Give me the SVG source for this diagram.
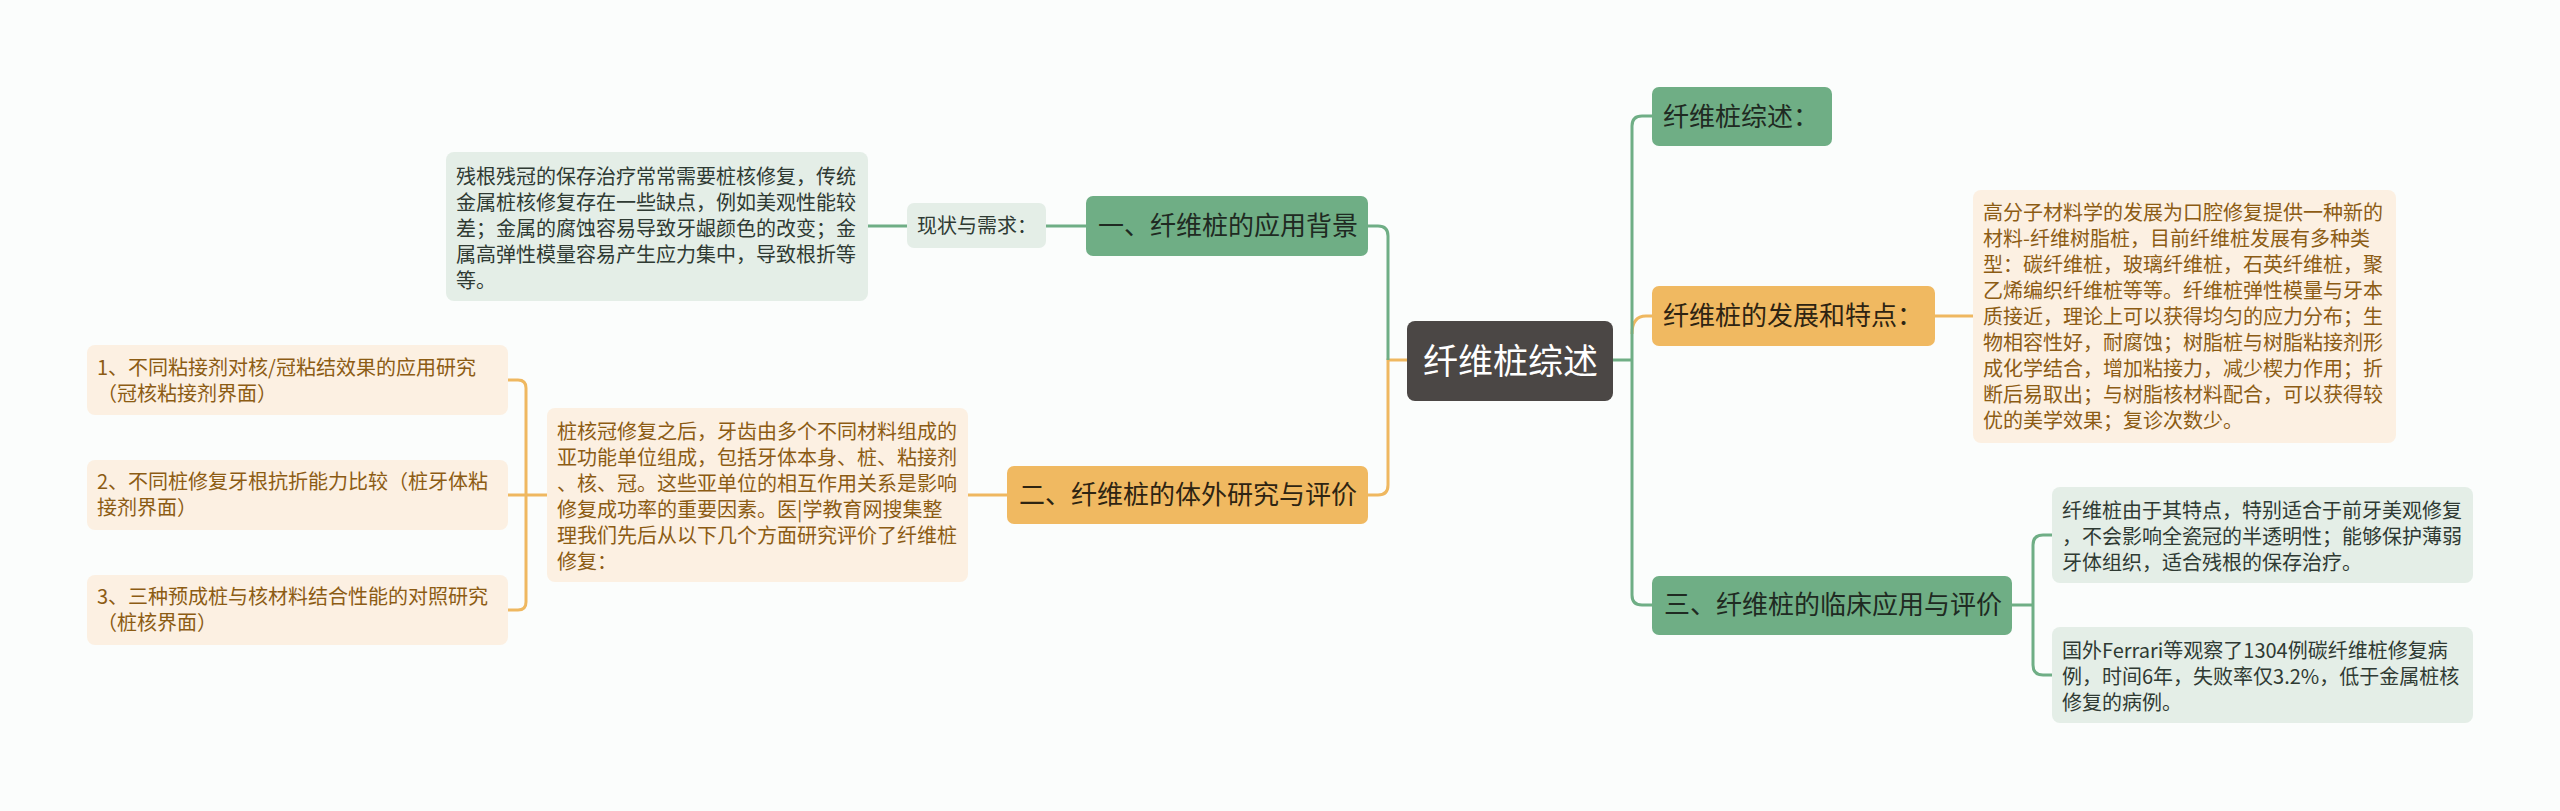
<svg xmlns="http://www.w3.org/2000/svg" width="2560" height="811" viewBox="0 0 2560 811">
<defs>
<style>
.bg{fill:#fbfdfc}
.gn{fill:#6fae85}
.on{fill:#f0b961}
.gb{fill:#e4eee7}
.ob{fill:#fcf0e2}
.root{fill:#4b4745}
.gl{fill:none;stroke:#6fae85;stroke-width:3}
.ol{fill:none;stroke:#efb860;stroke-width:3}
text{font-family:"Noto Sans CJK SC","Noto Sans",sans-serif}
.t26{font-size:26px;fill:#1f2a22}
.t26o{font-size:26px;fill:#2e2412}
.t20g{font-size:20px;fill:#2f3a33}
.t20o{font-size:20px;fill:#8c5c14}
.troot{font-size:35px;fill:#ffffff}
</style>
</defs>
<rect class="bg" x="0" y="0" width="2560" height="811"/>

<g id="connectors">
<!-- left side -->
<path class="ol" d="M1407,360 H1388 V485 Q1388,495 1378,495 H1368"/>
<path class="gl" d="M1388,360 V236 Q1388,226 1378,226 H1368"/>
<path class="gl" d="M1086,226 H1046"/>
<path class="gl" d="M907,226 H868"/>
<path class="ol" d="M1007,495 H968"/>
<path class="ol" d="M547,495 H508"/>
<path class="ol" d="M508,380 H518 Q526,380 526,388 V602 Q526,610 518,610 H508"/>
<!-- right side -->
<path class="ol" d="M1632,334 Q1632,316 1646,316 H1652"/>
<path class="gl" d="M1613,360 H1632"/>
<path class="gl" d="M1652,116 H1642 Q1632,116 1632,126 V595 Q1632,605 1642,605 H1652"/>
<path class="ol" d="M1935,316 H1973"/>
<path class="gl" d="M2012,605 H2033"/>
<path class="gl" d="M2052,535 H2043 Q2033,535 2033,545 V665 Q2033,675 2043,675 H2052"/>
</g>

<g id="root">
<rect class="root" x="1407" y="321" width="206" height="80" rx="8"/>
<text class="troot" x="1423" y="374">纤维桩综述</text>
</g>

<g id="n1">
<rect class="gn" x="1086" y="196" width="282" height="60" rx="7"/>
<text class="t26" x="1098" y="235">一、纤维桩的应用背景</text>
</g>

<g id="n1a">
<rect class="gb" x="907" y="203" width="139" height="45" rx="7"/>
<text class="t20g" x="917" y="233">现状与需求：</text>
</g>

<g id="n1b">
<rect class="gb" x="446" y="152" width="422" height="149" rx="8"/>
<text class="t20g" x="456"><tspan x="456" y="184">残根残冠的保存治疗常常需要桩核修复，传统</tspan><tspan x="456" y="210">金属桩核修复存在一些缺点，例如美观性能较</tspan><tspan x="456" y="236">差；金属的腐蚀容易导致牙龈颜色的改变；金</tspan><tspan x="456" y="262">属高弹性模量容易产生应力集中，导致根折等</tspan><tspan x="456" y="288">等。</tspan></text>
</g>

<g id="n2">
<rect class="on" x="1007" y="466" width="361" height="58" rx="7"/>
<text class="t26o" x="1019" y="504">二、纤维桩的体外研究与评价</text>
</g>

<g id="n2a">
<rect class="ob" x="547" y="408" width="421" height="174" rx="8"/>
<text class="t20o"><tspan x="557" y="439">桩核冠修复之后，牙齿由多个不同材料组成的</tspan><tspan x="557" y="465">亚功能单位组成，包括牙体本身、桩、粘接剂</tspan><tspan x="557" y="491">、核、冠。这些亚单位的相互作用关系是影响</tspan><tspan x="557" y="517">修复成功率的重要因素。医|学教育网搜集整</tspan><tspan x="557" y="543">理我们先后从以下几个方面研究评价了纤维桩</tspan><tspan x="557" y="569">修复：</tspan></text>
</g>

<g id="n2b1">
<rect class="ob" x="87" y="345" width="421" height="70" rx="8"/>
<text class="t20o"><tspan x="97" y="375">1、不同粘接剂对核/冠粘结效果的应用研究</tspan><tspan x="97" y="401">（冠核粘接剂界面）</tspan></text>
</g>

<g id="n2b2">
<rect class="ob" x="87" y="460" width="421" height="70" rx="8"/>
<text class="t20o"><tspan x="97" y="489">2、不同桩修复牙根抗折能力比较（桩牙体粘</tspan><tspan x="97" y="515">接剂界面）</tspan></text>
</g>

<g id="n2b3">
<rect class="ob" x="87" y="575" width="421" height="70" rx="8"/>
<text class="t20o"><tspan x="97" y="604">3、三种预成桩与核材料结合性能的对照研究</tspan><tspan x="97" y="630">（桩核界面）</tspan></text>
</g>

<g id="r1">
<rect class="gn" x="1652" y="87" width="180" height="59" rx="7"/>
<text class="t26" x="1663" y="126">纤维桩综述：</text>
</g>

<g id="r2">
<rect class="on" x="1652" y="286" width="283" height="60" rx="7"/>
<text class="t26o" x="1663" y="325">纤维桩的发展和特点：</text>
</g>

<g id="r2a">
<rect class="ob" x="1973" y="190" width="423" height="253" rx="8"/>
<text class="t20o"><tspan x="1983" y="220">高分子材料学的发展为口腔修复提供一种新的</tspan><tspan x="1983" y="246">材料-纤维树脂桩，目前纤维桩发展有多种类</tspan><tspan x="1983" y="272">型：碳纤维桩，玻璃纤维桩，石英纤维桩，聚</tspan><tspan x="1983" y="298">乙烯编织纤维桩等等。纤维桩弹性模量与牙本</tspan><tspan x="1983" y="324">质接近，理论上可以获得均匀的应力分布；生</tspan><tspan x="1983" y="350">物相容性好，耐腐蚀；树脂桩与树脂粘接剂形</tspan><tspan x="1983" y="376">成化学结合，增加粘接力，减少楔力作用；折</tspan><tspan x="1983" y="402">断后易取出；与树脂核材料配合，可以获得较</tspan><tspan x="1983" y="428">优的美学效果；复诊次数少。</tspan></text>
</g>

<g id="r3">
<rect class="gn" x="1652" y="576" width="360" height="59" rx="7"/>
<text class="t26" x="1664" y="614">三、纤维桩的临床应用与评价</text>
</g>

<g id="r3a">
<rect class="gb" x="2052" y="487" width="421" height="96" rx="8"/>
<text class="t20g"><tspan x="2062" y="518">纤维桩由于其特点，特别适合于前牙美观修复</tspan><tspan x="2062" y="544">，不会影响全瓷冠的半透明性；能够保护薄弱</tspan><tspan x="2062" y="570">牙体组织，适合残根的保存治疗。</tspan></text>
</g>

<g id="r3b">
<rect class="gb" x="2052" y="627" width="421" height="96" rx="8"/>
<text class="t20g"><tspan x="2062" y="658">国外Ferrari等观察了1304例碳纤维桩修复病</tspan><tspan x="2062" y="684">例，时间6年，失败率仅3.2%，低于金属桩核</tspan><tspan x="2062" y="710">修复的病例。</tspan></text>
</g>
</svg>
